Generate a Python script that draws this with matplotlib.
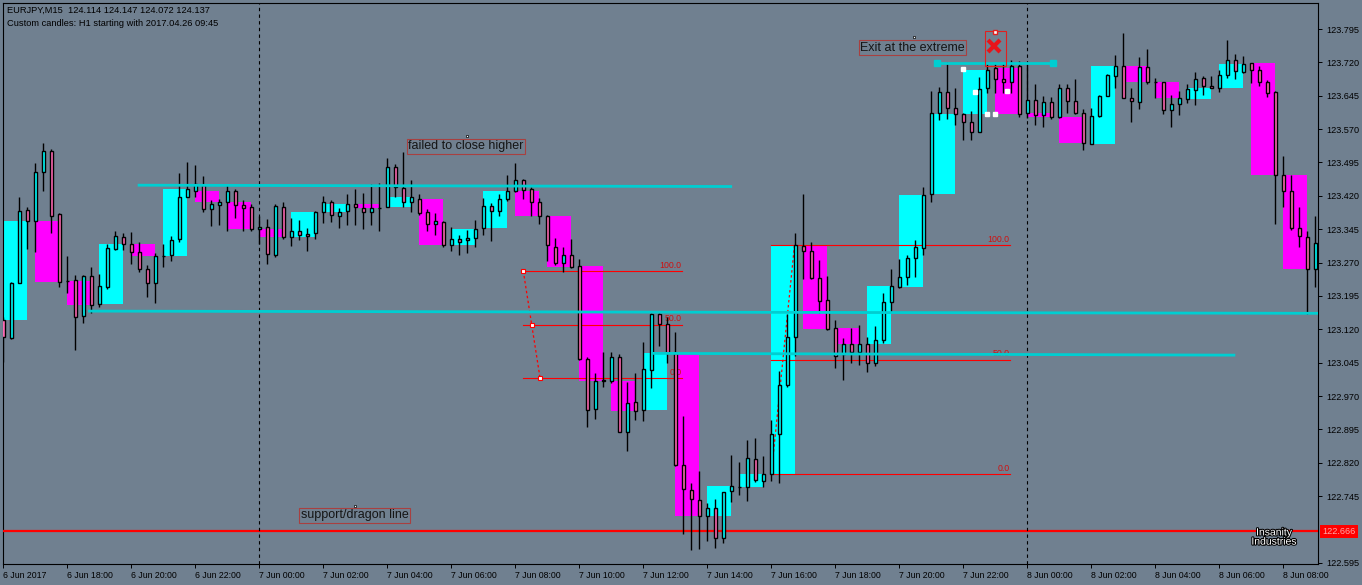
import matplotlib
matplotlib.use("Agg")
import matplotlib.pyplot as plt
import matplotlib.patheffects as pe
from matplotlib.patches import Rectangle
from matplotlib.transforms import blended_transform_factory
import numpy as np

W, H = 1362, 585

# EURJPY M15 candles, 6 Jun 2017 16:00 -> 8 Jun 2017 09:00
opens = [123.141, 123.101, 123.225, 123.388, 123.364, 123.473, 123.521, 123.379, 123.229, 123.231,
         123.149, 123.240, 123.176, 123.215, 123.300, 123.327, 123.311, 123.293, 123.255, 123.224,
         123.284, 123.286, 123.322, 123.418, 123.432, 123.444, 123.390, 123.399, 123.407, 123.430,
         123.399, 123.394, 123.345, 123.349, 123.286, 123.394, 123.328, 123.341, 123.334, 123.336,
         123.384, 123.406, 123.374, 123.385, 123.401, 123.393, 123.383, 123.392, 123.394, 123.486,
         123.437, 123.406, 123.414, 123.384, 123.356, 123.361, 123.309, 123.322, 123.320, 123.325,
         123.347, 123.397, 123.385, 123.414, 123.432, 123.455, 123.435, 123.406, 123.374, 123.306,
         123.269, 123.286, 123.263, 123.053, 122.940, 123.005, 123.003, 123.057, 122.889, 122.956,
         122.938, 123.029, 123.154, 123.133, 123.066, 122.815, 122.758, 122.736, 122.700, 122.718,
         122.650, 122.756, 122.766, 122.765, 122.828, 122.779, 122.794, 122.884, 122.996, 123.102,
         123.307, 123.295, 123.235, 123.185, 123.122, 123.064, 123.086, 123.070, 123.086, 123.044,
         123.095, 123.181, 123.215, 123.238, 123.280, 123.302, 123.424, 123.606, 123.653, 123.617,
         123.603, 123.585, 123.563, 123.662, 123.707, 123.682, 123.677, 123.713, 123.606, 123.635,
         123.601, 123.630, 123.597, 123.662, 123.633, 123.606, 123.537, 123.599, 123.644, 123.689,
         123.711, 123.639, 123.630, 123.709, 123.675, 123.675, 123.612, 123.626, 123.637, 123.657,
         123.684, 123.666, 123.662, 123.691, 123.725, 123.698, 123.718, 123.702, 123.675, 123.653,
         123.466, 123.432, 123.347, 123.327, 123.255]
highs = [123.148, 123.226, 123.417, 123.396, 123.493, 123.538, 123.525, 123.382, 123.285, 123.242,
         123.242, 123.261, 123.244, 123.312, 123.342, 123.336, 123.339, 123.317, 123.264, 123.291,
         123.312, 123.330, 123.471, 123.495, 123.489, 123.465, 123.411, 123.412, 123.444, 123.435,
         123.411, 123.402, 123.375, 123.367, 123.402, 123.406, 123.370, 123.366, 123.347, 123.387,
         123.420, 123.411, 123.392, 123.424, 123.435, 123.426, 123.447, 123.450, 123.504, 123.492,
         123.518, 123.455, 123.424, 123.390, 123.382, 123.364, 123.351, 123.332, 123.343, 123.366,
         123.415, 123.403, 123.424, 123.467, 123.493, 123.459, 123.439, 123.415, 123.376, 123.325,
         123.306, 123.324, 123.278, 123.057, 123.023, 123.068, 123.069, 123.065, 123.002, 123.023,
         123.092, 123.157, 123.156, 123.148, 123.114, 122.925, 122.774, 122.802, 122.729, 122.738,
         122.754, 122.837, 122.822, 122.871, 122.875, 122.835, 122.916, 123.026, 123.154, 123.336,
         123.424, 123.316, 123.276, 123.240, 123.142, 123.100, 123.122, 123.129, 123.102, 123.127,
         123.202, 123.255, 123.277, 123.286, 123.320, 123.439, 123.655, 123.664, 123.720, 123.662,
         123.606, 123.610, 123.687, 123.718, 123.718, 123.718, 123.725, 123.724, 123.718, 123.671,
         123.645, 123.642, 123.671, 123.671, 123.683, 123.615, 123.617, 123.646, 123.693, 123.737,
         123.785, 123.662, 123.731, 123.750, 123.686, 123.677, 123.646, 123.655, 123.671, 123.698,
         123.689, 123.689, 123.702, 123.770, 123.738, 123.734, 123.718, 123.711, 123.680, 123.655,
         123.509, 123.466, 123.394, 123.340, 123.374]
lows = [123.047, 123.098, 123.224, 123.301, 123.294, 123.432, 123.336, 123.216, 123.202, 123.074,
        123.134, 123.156, 123.171, 123.211, 123.298, 123.298, 123.267, 123.250, 123.193, 123.179,
        123.261, 123.274, 123.317, 123.417, 123.418, 123.384, 123.352, 123.355, 123.342, 123.370,
        123.340, 123.342, 123.312, 123.266, 123.283, 123.324, 123.308, 123.321, 123.295, 123.324,
        123.358, 123.362, 123.347, 123.355, 123.355, 123.345, 123.354, 123.342, 123.394, 123.417,
        123.396, 123.384, 123.377, 123.342, 123.332, 123.304, 123.297, 123.286, 123.292, 123.304,
        123.331, 123.319, 123.375, 123.409, 123.428, 123.412, 123.375, 123.356, 123.274, 123.265,
        123.250, 123.257, 123.051, 122.901, 122.919, 122.991, 122.999, 122.889, 122.847, 122.916,
        122.915, 122.988, 123.083, 123.045, 122.813, 122.660, 122.623, 122.626, 122.645, 122.629,
        122.639, 122.733, 122.748, 122.735, 122.778, 122.766, 122.780, 122.775, 122.990, 123.059,
        123.233, 123.233, 123.157, 123.118, 123.032, 123.006, 123.045, 123.040, 123.025, 123.038,
        123.089, 123.160, 123.212, 123.220, 123.237, 123.286, 123.406, 123.590, 123.592, 123.579,
        123.545, 123.545, 123.563, 123.651, 123.652, 123.652, 123.652, 123.598, 123.594, 123.579,
        123.575, 123.593, 123.594, 123.606, 123.603, 123.524, 123.536, 123.597, 123.644, 123.662,
        123.639, 123.585, 123.615, 123.671, 123.639, 123.603, 123.575, 123.601, 123.628, 123.624,
        123.646, 123.662, 123.653, 123.686, 123.682, 123.696, 123.673, 123.666, 123.642, 123.357,
        123.394, 123.343, 123.304, 123.155, 123.215]
closes = [123.103, 123.225, 123.386, 123.364, 123.473, 123.521, 123.375, 123.227, 123.229, 123.147,
          123.240, 123.174, 123.217, 123.302, 123.329, 123.312, 123.293, 123.255, 123.224, 123.284,
          123.284, 123.321, 123.417, 123.435, 123.447, 123.390, 123.402, 123.406, 123.430, 123.399,
          123.392, 123.345, 123.349, 123.289, 123.397, 123.328, 123.340, 123.331, 123.329, 123.383,
          123.406, 123.376, 123.383, 123.401, 123.394, 123.383, 123.392, 123.392, 123.486, 123.439,
          123.406, 123.417, 123.382, 123.356, 123.363, 123.309, 123.322, 123.316, 123.325, 123.346,
          123.397, 123.385, 123.414, 123.432, 123.455, 123.434, 123.406, 123.374, 123.309, 123.270,
          123.286, 123.261, 123.054, 122.939, 123.005, 123.005, 123.057, 122.889, 122.954, 122.937,
          123.030, 123.154, 123.133, 123.066, 122.816, 122.761, 122.738, 122.700, 122.718, 122.650,
          122.754, 122.767, 122.766, 122.830, 122.781, 122.794, 122.884, 122.994, 123.102, 123.310,
          123.295, 123.235, 123.183, 123.120, 123.061, 123.086, 123.068, 123.086, 123.044, 123.095,
          123.181, 123.217, 123.238, 123.280, 123.304, 123.421, 123.606, 123.653, 123.617, 123.603,
          123.585, 123.563, 123.660, 123.704, 123.682, 123.677, 123.713, 123.603, 123.635, 123.601,
          123.630, 123.597, 123.662, 123.633, 123.606, 123.538, 123.599, 123.644, 123.691, 123.713,
          123.639, 123.633, 123.709, 123.675, 123.675, 123.612, 123.626, 123.639, 123.660, 123.682,
          123.666, 123.662, 123.691, 123.725, 123.700, 123.716, 123.702, 123.675, 123.651, 123.466,
          123.432, 123.347, 123.329, 123.255, 123.313]

x_labels = ["6 Jun 2017", "6 Jun 18:00", "6 Jun 20:00", "6 Jun 22:00",
            "7 Jun 00:00", "7 Jun 02:00", "7 Jun 04:00", "7 Jun 06:00", "7 Jun 08:00",
            "7 Jun 10:00", "7 Jun 12:00", "7 Jun 14:00", "7 Jun 16:00", "7 Jun 18:00",
            "7 Jun 20:00", "7 Jun 22:00", "8 Jun 00:00", "8 Jun 02:00", "8 Jun 04:00",
            "8 Jun 06:00", "8 Jun 08:00"]
# 122.670 is hidden behind the price tag in MT4
y_ticks = [122.595, 122.745, 122.820, 122.895, 122.970, 123.045, 123.120, 123.195,
           123.270, 123.345, 123.420, 123.495, 123.570, 123.645, 123.720, 123.795]
day_breaks = [32, 128]

support_price = 122.666
# trend lines: (x0, p0, x1, p1)
cyan_lines = [(16.8, 123.444, 91.1, 123.441),
              (10.6, 123.161, 165.0, 123.156),
              (81.1, 123.066, 154.0, 123.062),
              (116.7, 123.719, 131.2, 123.719)]
# fibo retracements: x-range, anchor points (x, price)
fib_levels = [0.0, 50.0, 100.0]
fib1 = dict(x0=65.0, x1=84.8, a=(65.0, 123.251), b=(67.1, 123.010))
fib2 = dict(x0=96.0, x1=125.8, a=(98.9, 123.309), b=(96.0, 122.794))

notes = [("failed to close higher", 50.6, 123.531, 57.95, 123.555),
         ("Exit at the extreme", 107.1, 123.753, 113.8, 123.777),
         ("support/dragon line", 37.2, 122.702, 43.96, 122.723)]
handles_x = [120.0, 121.5, 123.0, 124.0, 125.5]
handles_p = [123.705, 123.654, 123.603, 123.603, 123.655]

bg = "#708090"
cyan = "#00FFFF"
magenta = "#FF00FF"
pink = "#FF69B4"
lcyan = "#00CED1"
red = "#FF0000"

fig = plt.figure(figsize=(W / 100, H / 100), dpi=100, facecolor=bg)
ax = fig.add_axes([2.5 / W, 21 / H, 1315.5 / W, 561.5 / H])
ax.set_facecolor(bg)
ax.set_xlim(-0.1, -0.1 + 1315.5 / 8)
ax.set_ylim(122.5926, 123.8546)

o = np.array(opens); c = np.array(closes)
hi = np.array(highs); lo = np.array(lows)
n = len(o)
xs = np.arange(n)

# H1 custom candles built from the M15 ones
for k in range(0, n, 4):
    j = min(k + 3, n - 1)
    if j == k:
        continue
    op, cl = o[k], c[j]
    ax.add_patch(Rectangle((k, min(op, cl)), j - k, abs(cl - op), lw=0,
                           color=cyan if cl >= op else magenta, zorder=1))

# fibo
for f in (fib1, fib2):
    p100, p0 = max(f["a"][1], f["b"][1]), min(f["a"][1], f["b"][1])
    for lv in fib_levels:
        p = p0 + (p100 - p0) * lv / 100
        ax.plot([f["x0"], f["x1"]], [p, p], color=red, lw=0.8, zorder=2)
        ax.text(f["x1"], p + 0.003, f"{lv:.1f}", ha="right", va="bottom",
                color="#D01010", fontsize=6.3, family="Liberation Sans", zorder=2)
    ax.plot([f["a"][0], f["b"][0]], [f["a"][1], f["b"][1]], color=red, lw=0.9,
            ls=(0, (2, 2)), zorder=2)
ax.plot([fib1["a"][0], (fib1["a"][0] + fib1["b"][0]) / 2, fib1["b"][0]],
        [fib1["a"][1], (fib1["a"][1] + fib1["b"][1]) / 2, fib1["b"][1]],
        ls="none", marker="s", ms=3, mfc="white", mec=red, mew=0.8, zorder=3)

# support line
ax.axhline(support_price, color=red, lw=1.6, zorder=3)
for d in day_breaks:
    ax.axvline(d, color="black", lw=0.8, ls=(0, (3, 3)), zorder=3)

# candles
up = c >= o
ax.vlines(xs, lo, hi, color="black", lw=1.0, zorder=4)
ax.bar(xs, np.maximum(np.abs(c - o), 0.0004), bottom=np.minimum(o, c), width=0.45,
       color=np.where(up, cyan, pink), edgecolor="black", linewidth=1.0, zorder=5)

# cyan trend lines
for x0, p0, x1, p1 in cyan_lines:
    ax.plot([x0, x1], [p0, p1], color=lcyan, lw=2.0, zorder=6, solid_capstyle="butt")
x0, p0, x1, p1 = cyan_lines[3]
ax.plot([x0, x1], [p0, p1], ls="none", marker="s", ms=5, color=lcyan, zorder=6)

# text labels
for txt, tx, ty, dx, dy in notes:
    ax.text(tx, ty, txt, ha="left", va="center", fontsize=9, color="#151515",
            family="Liberation Sans", zorder=7,
            bbox=dict(boxstyle="square,pad=0.12", fc="none", ec="#A84040", lw=0.8))
    ax.plot(dx, dy, marker="s", ms=2, mfc="white", mec="black", mew=0.5, zorder=7)

# exit marker
ax.add_patch(Rectangle((122.75, 123.713), 2.55, 0.078, fill=False, ec="#E02020", lw=0.8, zorder=7))
ax.plot(123.8, 123.757, marker="x", ms=8, mew=3, color="#E8141A", zorder=8)
ax.plot(124.0, 123.789, marker="s", ms=3.5, mfc="white", mec="#E02020", mew=1, zorder=8)
ax.plot(handles_x, handles_p, ls="none", marker="s", ms=2.5, color="white", zorder=8)

# axes styling
for s in ax.spines.values():
    s.set_color("black")
    s.set_linewidth(0.8)
ax.yaxis.tick_right()
ax.set_yticks(y_ticks)
ax.set_yticklabels([f"{v:.3f}" for v in y_ticks], fontsize=6.6, family="Liberation Sans")
ax.tick_params(axis="y", direction="out", length=3, width=0.7, pad=3, colors="black")
ax.set_xticks(np.arange(0, 8 * len(x_labels), 8))
ax.set_xticklabels(x_labels, ha="left", fontsize=6.3,
                   family=["Liberation Sans Narrow", "Liberation Sans"])
ax.tick_params(axis="x", direction="out", length=3, width=0.7, pad=2, colors="black")

# current support price tag
tr = blended_transform_factory(ax.transAxes, ax.transData)
ax.text(1.0035, support_price, "122.666", transform=tr, ha="left", va="center",
        fontsize=6.6, family="Liberation Sans", color="#FFA8A8", clip_on=False, zorder=9,
        bbox=dict(boxstyle="square,pad=0.25", fc=red, ec="none"))

# header
fig.text(7 / W, 1 - 10.7 / H, "EURJPY,M15  124.114 124.147 124.072 124.137",
         fontsize=6.7, family="Liberation Sans", va="center", color="black")
fig.text(7 / W, 1 - 24 / H, "Custom candles: H1 starting with 2017.04.26 09:45",
         fontsize=6.7, family="Liberation Sans", va="center", color="black")

# watermark
fig.text(1274 / W, 1 - 537 / H, "Insanity\nIndustries", ha="center", va="center",
         fontsize=7.5, color="white", linespacing=0.9, family="Liberation Sans",
         path_effects=[pe.withStroke(linewidth=1.5, foreground="black")])

fig.savefig("out.png", dpi=100, facecolor=bg)
